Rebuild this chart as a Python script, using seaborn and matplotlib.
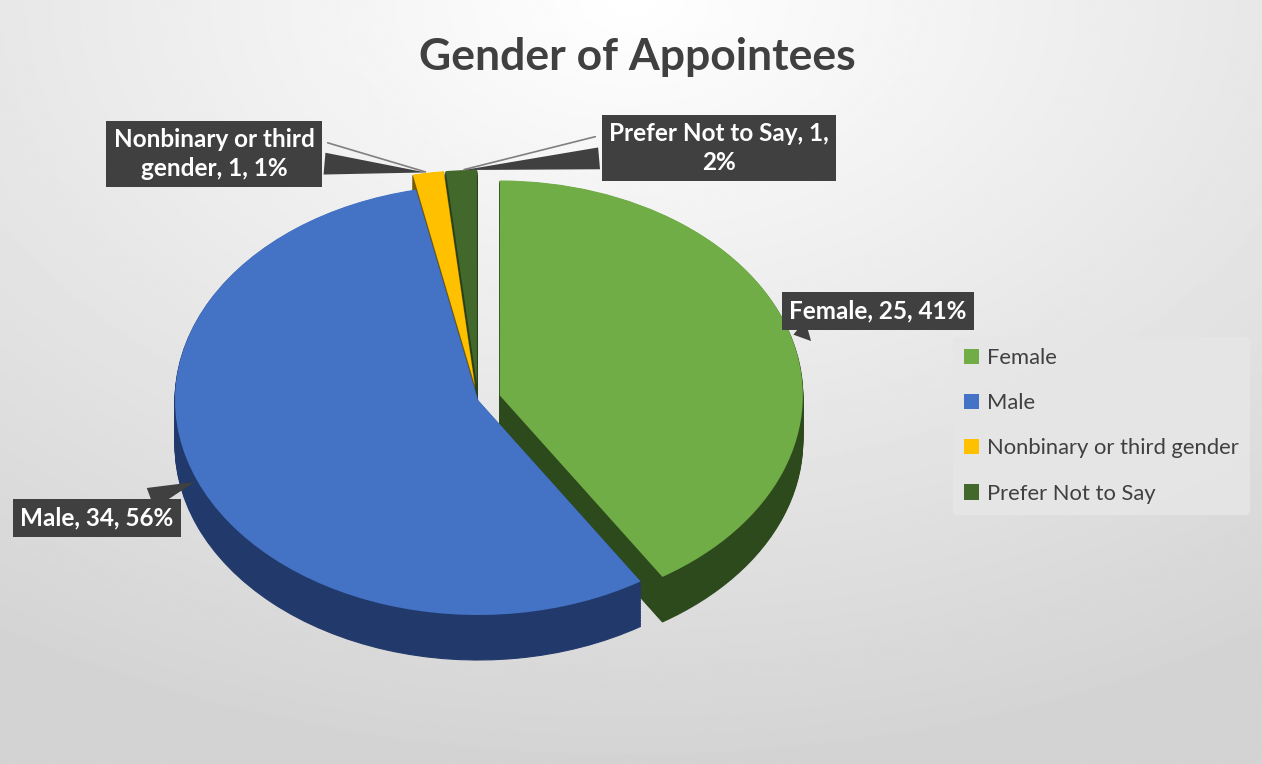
import matplotlib
matplotlib.use("Agg")
import matplotlib.pyplot as plt
import numpy as np
import seaborn as sns

# data
categories = ["Female", "Male", "Nonbinary or third gender", "Prefer Not to Say"]
counts = [25, 34, 1, 1]
pct_labels = ["41%", "56%", "1%", "2%"]
label_text = ["Female, 25, 41%", "Male, 34, 56%",
              "Nonbinary or third\ngender, 1, 1%", "Prefer Not to Say, 1,\n2%"]

top_colors = ["#70AD47", "#4472C4", "#FFC000", "#43682B"]
side_colors = ["#2D4A1D", "#22396B", "#7A5C00", "#26401A"]
explode = [0.075, 0.0, 0.07, 0.07]

sns.set_theme(style="white")
plt.rcParams['font.family'] = ['Lato', 'DejaVu Sans']

W, H = 1262, 764
fig = plt.figure(figsize=(W / 100, H / 100), dpi=100)

# soft grey gradient background, lighter near the top centre
bg = fig.add_axes([0, 0, 1, 1], zorder=-10)
yy, xx = np.mgrid[0:1:300j, 0:1:500j]
r = np.sqrt(((xx - 0.5) * 1.1) ** 2 + (yy * 1.0) ** 2)
shade = 1 - 0.17 * np.clip(r / 1.0, 0, 1)
bg.imshow(shade, cmap="gray", vmin=0, vmax=1, extent=[0, 1, 0, 1],
          origin="upper", aspect="auto")
bg.axis("off")

# pie axes; y squashed to fake the 3D tilt
cx, cy, rx, ry = 478, 400, 303, 215
left, right, top, bottom = 140, 830, 140, 700
ax = fig.add_axes([left / W, (H - bottom) / H, (right - left) / W, (bottom - top) / H])
depth = 45 / ry

for d in np.linspace(depth, 0.005, 30):
    wedges, _ = ax.pie(counts, explode=explode, colors=side_colors, startangle=90,
                       counterclock=False, center=(0, -d), frame=False)
    for w in wedges:
        w.set_edgecolor(w.get_facecolor())
        w.set_linewidth(0.8)

top_wedges, _ = ax.pie(counts, explode=explode, colors=top_colors, startangle=90,
                       counterclock=False, center=(0, 0), frame=False,
                       wedgeprops=dict(linewidth=0))

ax.set_aspect("auto")
ax.set_xlim(-(cx - left) / rx, (right - cx) / rx)
ax.set_ylim(-(bottom - cy) / ry, (cy - top) / ry)
ax.axis("off")

# callout labels
text_pos = [(878, 311), (97, 518), (214, 154), (719, 148)]
for i, (w, txt, (tx, ty)) in enumerate(zip(top_wedges, label_text, text_pos)):
    mid = np.deg2rad((w.theta1 + w.theta2) / 2)
    px, py = w.center[0] + np.cos(mid), w.center[1] + np.sin(mid)
    if i >= 2:
        # thin grey leader line for the small slices
        ax.annotate("", xy=(px, py), xycoords="data",
                    xytext=(tx + (111 if i == 2 else -121), H - ty + 12),
                    textcoords="figure pixels",
                    arrowprops=dict(arrowstyle="-", color="#808080", lw=1.2))
    ax.annotate(txt, xy=(px, py), xycoords="data",
                xytext=(tx, H - ty), textcoords="figure pixels",
                ha="center", va="center", color="white", fontsize=17.5,
                fontweight="bold", linespacing=1.3,
                bbox=dict(boxstyle="square,pad=0.3", fc="#404040", ec="none"),
                arrowprops=dict(arrowstyle="wedge,tail_width=0.9,shrink_factor=0.5",
                                fc="#404040", ec="none"))

fig.text(637 / W, 1 - 57 / H, "Gender of Appointees", ha="center", va="center",
         fontsize=32, fontweight="bold", color="#404040")

leg = fig.legend(top_wedges, categories, loc="upper left",
                 bbox_to_anchor=(953 / W, 1 - 337 / H), frameon=True,
                 fontsize=15.8, labelspacing=1.15, handlelength=0.7, handleheight=0.7,
                 handletextpad=0.35, borderpad=0.5, borderaxespad=0,
                 labelcolor="#404040")
leg.get_frame().set_facecolor("#E6E6E6")
leg.get_frame().set_edgecolor("none")
leg.get_frame().set_alpha(0.9)

fig.savefig("out.png", dpi=100)
